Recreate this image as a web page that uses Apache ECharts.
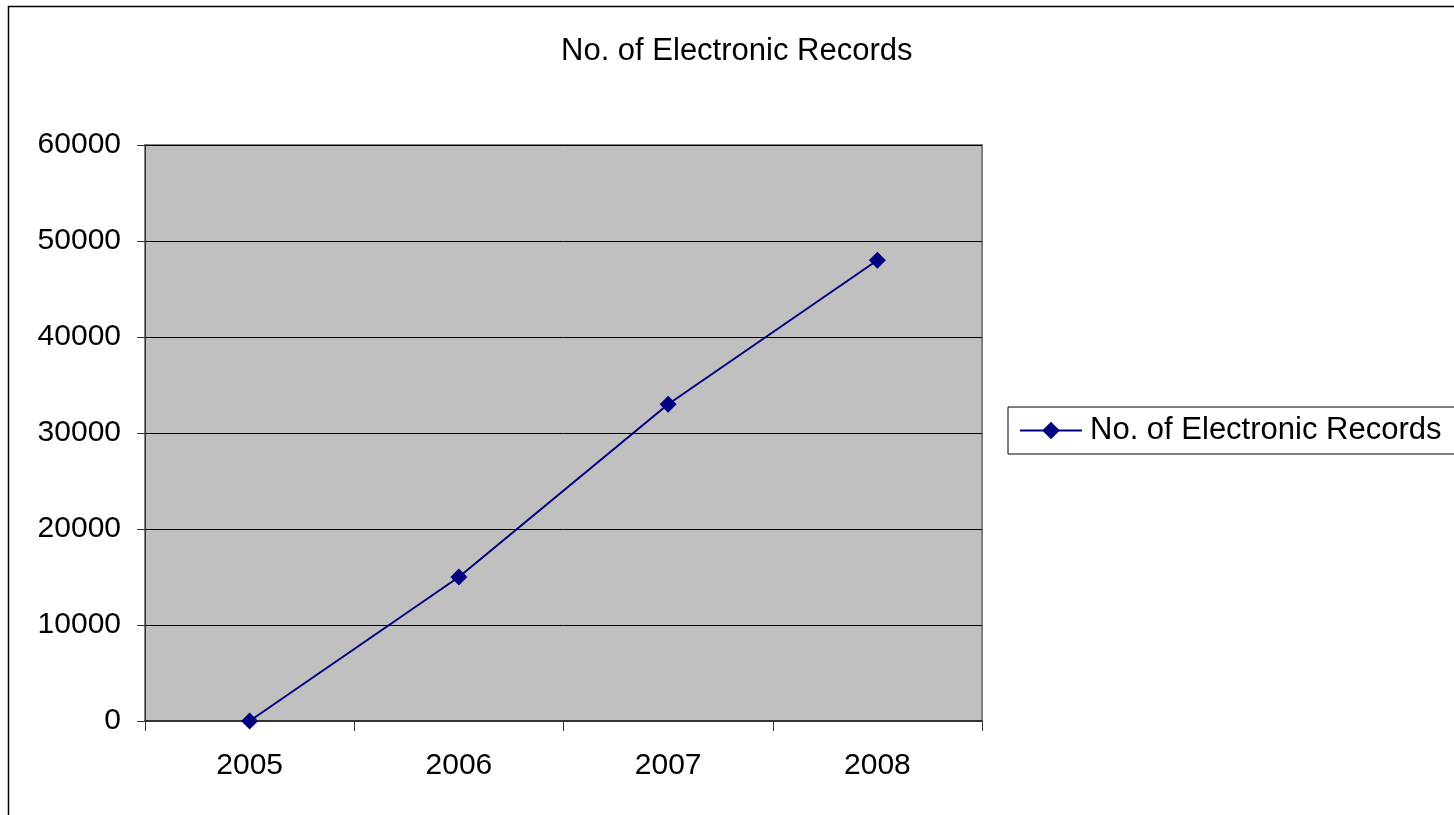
<!DOCTYPE html>
<html>
<head>
<meta charset="utf-8">
<script src="https://cdn.jsdelivr.net/npm/echarts@6/dist/echarts.min.js"></script>
<style>
  html, body { margin: 0; padding: 0; background: #fff; }
  #chart { width: 1454px; height: 815px; }
</style>
</head>
<body>
<div id="chart"></div>
<script>
// Yearly count of electronic records
const years = ['2005', '2006', '2007', '2008'];
const records = [0, 15000, 33000, 48000];
const seriesName = 'No. of Electronic Records';
const chartTitle = 'No. of Electronic Records';

const FONT = 'Liberation Sans, Arial, sans-serif';

const chart = echarts.init(document.getElementById('chart'), null, { renderer: 'canvas' });

chart.setOption({
  backgroundColor: '#ffffff',
  animation: false,
  title: {
    text: chartTitle,
    left: 556,
    top: 31,
    textStyle: { fontFamily: FONT, fontSize: 31, fontWeight: 'normal', color: '#000' }
  },
  graphic: [{
    type: 'rect',
    shape: { x: 8.5, y: 6.5, width: 1600, height: 1000 },
    style: { fill: 'none', stroke: '#000', lineWidth: 1.5 },
    silent: true,
    z: -10
  }],
  legend: {
    data: [seriesName],
    left: 1008,
    top: 407,
    orient: 'vertical',
    padding: [8, 20, 8, 11],
    borderColor: '#000',
    borderWidth: 1,
    itemWidth: 62,
    itemHeight: 22,
    itemGap: 0,
    lineStyle: { width: 2 },
    textStyle: { fontFamily: FONT, fontSize: 31, color: '#000', padding: [0, 0, 0, 3] }
  },
  grid: {
    left: 145,
    right: 472,
    top: 145,
    bottom: 94,
    show: true,
    backgroundColor: '#c0c0c0',
    borderColor: '#808080',
    borderWidth: 2
  },
  xAxis: {
    type: 'category',
    data: years,
    boundaryGap: true,
    axisLine: { lineStyle: { color: '#333', width: 2 } },
    axisTick: { show: true, length: 10, lineStyle: { color: '#333', width: 1 } },
    axisLabel: { fontFamily: FONT, fontSize: 30, color: '#000', margin: 30 },
    splitLine: { show: false }
  },
  yAxis: {
    type: 'value',
    min: 0,
    max: 60000,
    interval: 10000,
    axisLine: { show: true, lineStyle: { color: '#333', width: 1 } },
    axisTick: { show: true, length: 8, lineStyle: { color: '#333', width: 1 } },
    axisLabel: {
      fontFamily: FONT, fontSize: 30, color: '#000', margin: 24,
      formatter: v => String(v)
    },
    splitLine: { show: true, lineStyle: { color: '#000', width: 1 } }
  },
  series: [{
    name: seriesName,
    type: 'line',
    data: records,
    symbol: 'diamond',
    symbolSize: 17,
    lineStyle: { color: '#000080', width: 2 },
    itemStyle: { color: '#000080' }
  }]
});
</script>
</body>
</html>
